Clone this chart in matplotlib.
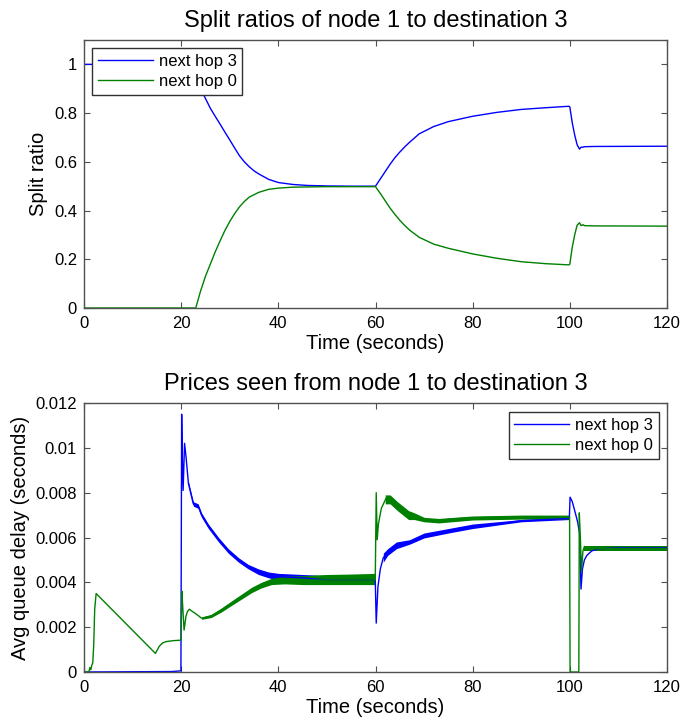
import numpy as np
import matplotlib
matplotlib.use("Agg")
import matplotlib.pyplot as plt

# ---------------- data: split ratios ----------------
t_split_b = [0, 20, 21, 22, 23, 24, 25, 26, 27, 28, 29, 30, 31, 32, 33, 34, 35, 36, 38, 40,
             43, 46, 50, 55, 60, 61, 62, 63, 64, 65, 66, 67, 69, 72, 75, 80, 85, 90, 95,
             99.8, 100, 100.5, 101, 101.5, 102, 102.3, 102.7, 103, 105, 120]
split_b = [1.0, 1.0, 0.99, 0.97, 0.94, 0.90, 0.86, 0.82, 0.787, 0.755, 0.722, 0.69, 0.657,
           0.625, 0.60, 0.58, 0.563, 0.55, 0.528, 0.515, 0.507, 0.503, 0.501, 0.5, 0.5,
           0.53, 0.56, 0.59, 0.617, 0.64, 0.661, 0.68, 0.715, 0.745, 0.765, 0.787, 0.803,
           0.815, 0.822, 0.828, 0.825, 0.76, 0.71, 0.67, 0.652, 0.66, 0.66, 0.662, 0.663,
           0.664]

t_split_g = [0, 23, 24, 25, 26, 27, 28, 29, 30, 31, 32, 33, 34, 36, 38, 40, 43, 50, 60, 61,
             62, 63, 64, 65, 66, 67, 69, 72, 75, 80, 85, 90, 95, 99.8, 100, 100.5, 101,
             101.5, 102, 102.3, 102.7, 103, 105, 120]
split_g = [0.0, 0.0, 0.07, 0.13, 0.18, 0.23, 0.275, 0.318, 0.355, 0.387, 0.415, 0.437,
           0.455, 0.475, 0.487, 0.492, 0.496, 0.498, 0.498, 0.47, 0.44, 0.41, 0.384, 0.36,
           0.339, 0.32, 0.29, 0.262, 0.245, 0.222, 0.204, 0.19, 0.182, 0.177, 0.18, 0.25,
           0.30, 0.34, 0.35, 0.338, 0.342, 0.338, 0.337, 0.336]

# ---------------- data: prices ----------------
t_price_b = [0, 18, 19.95, 20.1, 20.25, 20.4, 20.7, 21.0, 21.5, 22.5, 23.5, 24.2, 25.6,
             27.7, 29.7, 31.8, 33.8, 35.9, 38, 40, 45, 50, 55, 59.95, 60.15, 60.5, 61,
             61.6, 62.5, 64.3, 67, 69, 71, 74, 80, 85, 90, 95, 99.9, 100.05, 100.5, 101,
             101.6, 102.0, 102.3, 102.6, 103, 103.5, 104.5, 106, 110, 120]
price_b = [0.0, 0.00002, 0.00005, 0.0115, 0.0095, 0.0081, 0.0102, 0.0096, 0.0084, 0.0075,
           0.0074, 0.0070, 0.0065, 0.0059, 0.0054, 0.0050, 0.0047, 0.00447, 0.00433,
           0.00425, 0.0042, 0.0041, 0.0041, 0.0041, 0.00218, 0.0038, 0.0046, 0.0051,
           0.0053, 0.0056, 0.0058, 0.0060, 0.0061, 0.00625, 0.0065, 0.0066, 0.00675,
           0.0068, 0.00685, 0.0078, 0.0076, 0.0072, 0.0067, 0.0062, 0.0037, 0.0046,
           0.0050, 0.0052, 0.0054, 0.0055, 0.00553, 0.00553]

t_price_g = [0, 1.0, 1.2, 1.4, 1.6, 1.8, 2.0, 2.2, 2.5, 14.7, 15.0, 15.5, 16.2, 17, 18.5,
             19.95, 20.15, 20.35, 20.6, 21.0, 21.3, 21.7, 22.3, 23.0, 24.2, 26.2, 28.3,
             30.3, 32.4, 34.5, 36.5, 38.6, 41.3, 48, 55, 59.95, 60.15, 60.35, 60.6, 61.2,
             62.2, 63, 64.5, 66.8, 68, 70, 72, 75, 80, 85, 90, 95, 99.95, 100.05, 101.85,
             101.95, 102.2, 102.4, 102.7, 103, 104, 106, 120]
price_g = [0.0, 0.0, 0.0002, 0.0001, 0.0003, 0.0004, 0.0012, 0.0028, 0.0035, 0.00083,
           0.00095, 0.00115, 0.0013, 0.00136, 0.0014, 0.00142, 0.0036, 0.0028, 0.00187,
           0.0025, 0.0027, 0.0028, 0.0027, 0.0026, 0.0024, 0.0025, 0.00277, 0.00306,
           0.00336, 0.00366, 0.00388, 0.00403, 0.0041, 0.0041, 0.0041, 0.0041, 0.0080,
           0.0059, 0.0066, 0.0073, 0.00776, 0.0077, 0.0074, 0.0070, 0.0069, 0.00678,
           0.0067, 0.00682, 0.00688, 0.0069, 0.0069, 0.0069, 0.0069, 0.0, 0.0, 0.0071,
           0.0058, 0.0045, 0.0054, 0.0056, 0.0055, 0.0055, 0.0055]

# noise envelopes
t_band_g1 = [24.2, 26.2, 28.3, 30.3, 32.4, 34.5, 36.5, 38.6, 41.3, 45, 50, 55, 59.9]
g1_lo = [0.00235, 0.00243, 0.00268, 0.00296, 0.00325, 0.00354, 0.00375, 0.0039, 0.00393,
         0.0039, 0.0039, 0.0039, 0.0039]
g1_hi = [0.00245, 0.00257, 0.00286, 0.00316, 0.00347, 0.00378, 0.0040, 0.00418, 0.00428,
         0.0043, 0.00435, 0.00437, 0.0044]
t_band_g2 = [62, 63, 64.5, 66.8, 68, 70, 73, 80, 90, 99.8]
g2_lo = [0.0075, 0.0075, 0.0072, 0.0068, 0.0068, 0.0067, 0.00665, 0.00678, 0.00682, 0.00682]
g2_hi = [0.0079, 0.0079, 0.0076, 0.0072, 0.0071, 0.0069, 0.00685, 0.00696, 0.0070, 0.0070]
t_band_g3 = [103, 120]
g3_lo = [0.0054, 0.0054]
g3_hi = [0.0056, 0.0056]

t_band_b1 = [21.5, 22.5, 23.5, 24.2, 25.6, 27.7, 29.7, 31.8, 33.8, 35.9, 38, 40, 45, 50,
             55, 59.9]
b1_lo = [0.0083, 0.0074, 0.0073, 0.0069, 0.0064, 0.0058, 0.0053, 0.0049, 0.0046, 0.00435,
         0.0042, 0.0041, 0.00405, 0.00395, 0.00395, 0.00395]
b1_hi = [0.0085, 0.0076, 0.0075, 0.0071, 0.0066, 0.0060, 0.0055, 0.0051, 0.0048, 0.0046,
         0.00446, 0.0044, 0.00435, 0.0043, 0.0043, 0.0043]
t_band_b2 = [61.6, 62.5, 64.3, 67, 70, 75, 80, 90, 99.8]
b2_lo = [0.0049, 0.0052, 0.0055, 0.0057, 0.00598, 0.0062, 0.0064, 0.0067, 0.0068]
b2_hi = [0.0053, 0.0055, 0.0058, 0.0059, 0.0062, 0.0064, 0.0066, 0.0068, 0.0069]
t_band_b3 = [104, 120]
b3_lo = [0.0054, 0.0054]
b3_hi = [0.0056, 0.0056]

labels = ["next hop 3", "next hop 0"]
x_ticks = [0, 20, 40, 60, 80, 100, 120]
top_yticks = [0, 0.2, 0.4, 0.6, 0.8, 1]
top_yticklabels = ["0", "0.2", "0.4", "0.6", "0.8", "1"]
bot_yticks = [0, 0.002, 0.004, 0.006, 0.008, 0.01, 0.012]
bot_yticklabels = ["0", "0.002", "0.004", "0.006", "0.008", "0.01", "0.012"]

BLUE = (0, 0, 1)
GREEN = (0, 0.5, 0)
EDGE = "#505050"

plt.rcParams['font.family'] = ['Liberation Sans', 'DejaVu Sans']

fig = plt.figure(figsize=(6.97, 7.22), dpi=100)
ax1 = fig.add_axes([84/697, 1-308/722, 583/697, 268/722])
ax2 = fig.add_axes([84/697, 1-672/722, 583/697, 269/722])


def style(ax):
    for s in ax.spines.values():
        s.set_color(EDGE)
        s.set_linewidth(1.0)
    ax.tick_params(direction='in', length=4.5, width=0.8, color=EDGE,
                   top=True, right=True, labelsize=12, labelcolor='black')
    ax.tick_params(axis='x', pad=6)
    ax.tick_params(axis='y', pad=5)
    ax.set_xlim(0, 120)
    ax.set_xticks(x_ticks)
    ax.set_xlabel("Time (seconds)", fontsize=14.5, labelpad=2)


def add_legend(ax, loc, anchor):
    leg = ax.legend(loc=loc, bbox_to_anchor=anchor, fontsize=12,
                    handlelength=3.3, borderpad=0.35, labelspacing=0.3,
                    handletextpad=0.35, borderaxespad=0, fancybox=False, framealpha=1)
    leg.get_frame().set_edgecolor('#303030')
    leg.get_frame().set_linewidth(1.0)
    return leg


lw = 1.0
ax1.plot(t_split_b, split_b, color=BLUE, lw=lw, label=labels[0])
ax1.plot(t_split_g, split_g, color=GREEN, lw=lw, label=labels[1])
ax1.set_ylim(0, 1.1)
ax1.set_yticks(top_yticks)
ax1.set_yticklabels(top_yticklabels)
ax1.set_ylabel("Split ratio", fontsize=14.5)
ax1.set_title("Split ratios of node 1 to destination 3", fontsize=17, pad=9)
style(ax1)
add_legend(ax1, 'upper left', (8/583, 1-8/268))

ax2.plot(t_price_b, price_b, color=BLUE, lw=lw, label=labels[0])
for tb, lo, hi in [(t_band_b1, b1_lo, b1_hi), (t_band_b2, b2_lo, b2_hi), (t_band_b3, b3_lo, b3_hi)]:
    ax2.fill_between(tb, lo, hi, color=BLUE, lw=0)
ax2.plot(t_price_g, price_g, color=GREEN, lw=lw, label=labels[1])
for tb, lo, hi in [(t_band_g1, g1_lo, g1_hi), (t_band_g2, g2_lo, g2_hi), (t_band_g3, g3_lo, g3_hi)]:
    ax2.fill_between(tb, lo, hi, color=GREEN, lw=0)
ax2.set_ylim(0, 0.012)
ax2.set_yticks(bot_yticks)
ax2.set_yticklabels(bot_yticklabels)
ax2.set_ylabel("Avg queue delay (seconds)", fontsize=14.5)
ax2.set_title("Prices seen from node 1 to destination 3", fontsize=17, pad=9)
style(ax2)
add_legend(ax2, 'upper right', (1-8/583, 1-9/269))

fig.savefig("out.png", dpi=100)
